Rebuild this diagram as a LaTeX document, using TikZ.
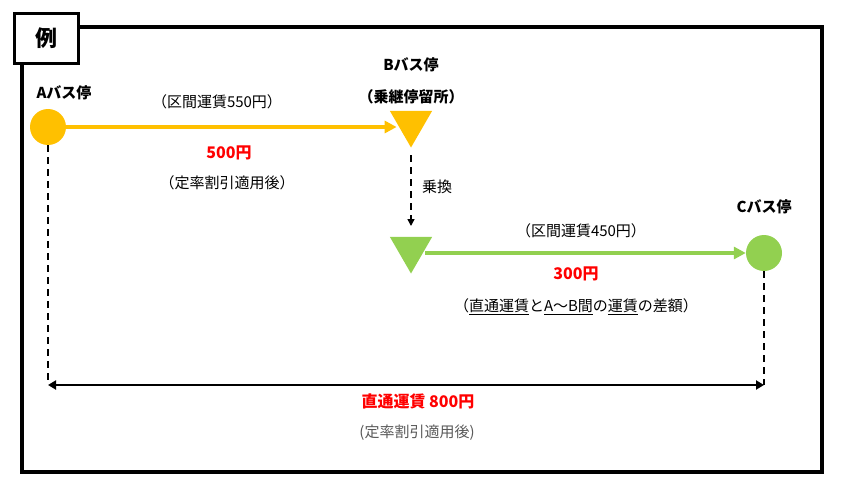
\documentclass[tikz,border=0pt]{standalone}
\usepackage{fontspec}
\setmainfont{Noto Sans CJK JP}
\usepackage{tikz}
\usetikzlibrary{positioning}
\usetikzlibrary{shapes.geometric}
\usetikzlibrary{arrows.meta}

\definecolor{busorange}{RGB}{255,192,0}
\definecolor{busgreen}{RGB}{146,208,80}
\definecolor{farered}{RGB}{255,0,0}
\definecolor{notegray}{RGB}{89,89,89}

\tikzset{
	stopdot/.style={circle, minimum size=36pt, inner sep=0pt},
	stoptri/.style={regular polygon, regular polygon sides=3, shape border rotate=180, minimum size=49pt, inner sep=0pt},
	stoplabel/.style={font=\fontsize{15}{15}\selectfont\bfseries, inner sep=0pt},
	farelabel/.style={font=\fontsize{15}{15}\selectfont, inner sep=0pt},
	redlabel/.style={font=\fontsize{16}{16}\selectfont\bfseries, text=farered, inner sep=0pt},
	routeline/.style={line width=4pt, -{Triangle[length=12pt,width=12pt]}},
	guideline/.style={line width=1.5pt, dash pattern=on 7pt off 5pt},
}

\begin{document}
\begin{tikzpicture}[x=1pt,y=-1pt]
	\useasboundingbox (0,0) rectangle (844,495);

	% frame and title
	\draw[line width=4pt] (22,27) rectangle (822,472);
	\node[draw, line width=3pt, fill=white, minimum width=64pt, minimum height=50pt, inner sep=0pt,
		font=\fontsize{22}{22}\selectfont\bfseries] (title) at (46.5,38.5) {例};

	% stops
	\node[stopdot, fill=busorange] (stopA) at (48,127) {};
	\node[stoptri, fill=busorange] (stopB) at (411,123) {};
	\node[stoptri, fill=busgreen] (stopBg) at (411,249) {};
	\node[stopdot, fill=busgreen] (stopC) at (764,253) {};

	\node[stoplabel] (labA) at (64,93) {Aバス停};
	\node[stoplabel] (labB) at (411,65) {Bバス停};
	\node[stoplabel] (labBsub) at (411,97) {（乗継停留所）};
	\node[stoplabel] (labC) at (764,207) {Cバス停};

	% A to B
	\draw[routeline, busorange] (stopA.east) -- (stopA.east -| stopB.west);
	\node[farelabel] (fareAB) at (217,102) {（区間運賃550円）};
	\node[redlabel] (payAB) at (229,153) {500円};
	\node[farelabel] (noteAB) at (227,183) {（定率割引適用後）};

	% transfer
	\coordinate (xferTop) at (411,155);
	\coordinate (xferEnd) at (411,226);
	\draw[guideline, -{Triangle[length=7pt,width=7pt]}] (xferTop) -- (xferEnd);
	\node[farelabel, anchor=west] (xfer) at (422,187) {乗換};

	% B to C
	\draw[routeline, busgreen] (stopC.west -| stopBg.east) -- (stopC.west);
	\node[farelabel] (fareBC) at (581,231) {（区間運賃450円）};
	\node[redlabel] (payBC) at (576,274) {300円};
	\node[farelabel] (noteBC) at (576,307) {（\underline{直通運賃}と\underline{A～B間}の\underline{運賃}の差額）};

	% through fare
	\coordinate (dimA) at (48,385);
	\coordinate (dimC) at (764,385);
	\draw[guideline] (stopA.south) -- (dimA);
	\draw[guideline] (stopC.south) -- (dimC);
	\draw[line width=2.5pt, {Triangle[length=8pt,width=9pt]}-{Triangle[length=8pt,width=9pt]}] (dimA) -- (dimC);
	\node[redlabel] (payAC) at (418,401) {直通運賃 800円};
	\node[farelabel, text=notegray] (noteAC) at (417,433) {(定率割引適用後)};
\end{tikzpicture}
\end{document}
